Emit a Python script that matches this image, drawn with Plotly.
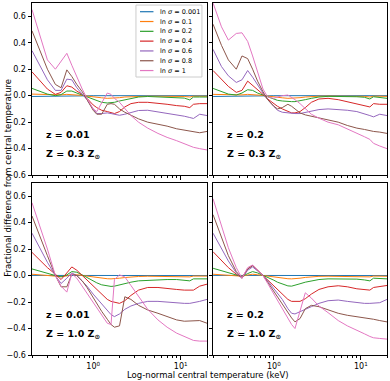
import plotly.graph_objects as go

temps = [0.2, 0.25, 0.3, 0.37, 0.43, 0.5, 0.57, 0.65, 0.75, 0.85, 1.0, 1.1, 1.25, 1.45, 1.6,
         1.75, 2.0, 2.3, 2.7, 3.3, 4.2, 5.5, 7, 9, 11, 12.7, 14, 16.5, 20]
sigmas = ["0.001", "0.1", "0.2", "0.4", "0.6", "0.8", "1"]
colors = ["#1f77b4", "#ff7f0e", "#2ca02c", "#d62728", "#9467bd", "#8c564b", "#e377c2"]

# z = 0.01, Z = 0.3 Zsun  (one row per ln sigma)
z001_Z03 = [
    [-0.006, -0.006, -0.005, -0.005, -0.005, -0.004, -0.004, -0.003, -0.002, -0.001, 0, 0, 0, 0, 0,
     0, 0, 0, 0, 0, 0, 0, 0, 0, 0, -0.002, 0, 0, 0],
    [0.012, 0.01, 0.007, 0.005, 0.006, 0.01, 0.009, 0.006, 0.002, -0.003, -0.01, -0.013, -0.016, -0.02, -0.02,
     -0.018, -0.015, -0.01, -0.007, -0.005, -0.004, -0.004, -0.004, -0.005, -0.006, -0.01, -0.004, -0.004, -0.004],
    [0.055, 0.03, 0.012, 0.0, 0.008, 0.035, 0.035, 0.02, 0.005, -0.01, -0.03, -0.04, -0.05, -0.055, -0.055,
     -0.05, -0.04, -0.03, -0.02, -0.01, -0.006, -0.008, -0.01, -0.012, -0.018, -0.032, -0.01, -0.01, -0.01],
    [0.18, 0.11, 0.05, 0.01, 0.025, 0.075, 0.065, 0.035, 0.01, -0.02, -0.07, -0.09, -0.11, -0.12, -0.125,
     -0.135, -0.12, -0.085, -0.06, -0.05, -0.05, -0.055, -0.065, -0.075, -0.08, -0.09, -0.065, -0.06, -0.06],
    [0.34, 0.22, 0.12, 0.04, 0.04, 0.125, 0.12, 0.06, 0.015, -0.03, -0.1, -0.135, -0.135, -0.13, -0.135,
     -0.14, -0.148, -0.14, -0.125, -0.112, -0.11, -0.122, -0.132, -0.142, -0.155, -0.165, -0.172, -0.14, -0.15],
    [0.49, 0.33, 0.2, 0.085, 0.06, 0.195, 0.145, 0.085, 0.03, -0.03, -0.11, -0.14, -0.14, -0.065, -0.06,
     -0.065, -0.1, -0.125, -0.15, -0.175, -0.2, -0.215, -0.23, -0.25, -0.26, -0.27, -0.275, -0.28, -0.27],
    [0.65, 0.44, 0.27, 0.2, 0.26, 0.32, 0.23, 0.14, 0.05, -0.02, -0.1, -0.12, -0.05, 0.02, 0.01,
     -0.02, -0.05, -0.1, -0.15, -0.2, -0.245, -0.285, -0.315, -0.34, -0.36, -0.38, -0.39, -0.4, -0.41],
]

# z = 0.2, Z = 0.3 Zsun
z02_Z03 = [
    [-0.006, -0.006, -0.005, -0.005, -0.005, -0.004, -0.004, -0.003, -0.002, -0.001, 0, 0, 0, 0, 0,
     0, 0, 0, 0, 0, 0, 0, 0, 0, 0, -0.002, 0, 0, 0],
    [0.01, 0.008, 0.006, 0.005, 0.006, 0.01, 0.009, 0.006, 0.002, -0.003, -0.01, -0.013, -0.016, -0.02, -0.02,
     -0.018, -0.015, -0.01, -0.006, -0.004, -0.003, -0.003, -0.003, -0.004, -0.005, -0.01, -0.004, -0.004, -0.005],
    [0.055, 0.03, 0.012, 0.005, 0.02, 0.045, 0.04, 0.02, 0.005, -0.01, -0.025, -0.035, -0.04, -0.045, -0.045,
     -0.045, -0.04, -0.03, -0.02, -0.01, -0.005, -0.005, -0.006, -0.008, -0.012, -0.025, -0.008, -0.015, -0.02],
    [0.19, 0.12, 0.07, 0.025, 0.04, 0.11, 0.08, 0.045, 0.01, -0.025, -0.06, -0.08, -0.1, -0.12, -0.13,
     -0.13, -0.12, -0.09, -0.05, -0.025, -0.02, -0.03, -0.045, -0.06, -0.075, -0.085, -0.06, -0.065, -0.065],
    [0.35, 0.22, 0.15, 0.1, 0.12, 0.19, 0.14, 0.08, 0.02, -0.03, -0.08, -0.11, -0.125, -0.13, -0.135,
     -0.135, -0.135, -0.125, -0.115, -0.105, -0.1, -0.103, -0.11, -0.12, -0.135, -0.15, -0.16, -0.14, -0.15],
    [0.54, 0.38, 0.27, 0.2, 0.3, 0.28, 0.2, 0.11, 0.03, -0.03, -0.08, -0.1, -0.09, -0.065, -0.08,
     -0.1, -0.13, -0.145, -0.155, -0.165, -0.18, -0.2, -0.225, -0.245, -0.255, -0.265, -0.27, -0.275, -0.285],
    [0.7, 0.52, 0.42, 0.47, 0.475, 0.41, 0.3, 0.18, 0.05, -0.01, -0.02, -0.01, 0.0, 0.005, -0.01,
     -0.03, -0.06, -0.1, -0.14, -0.17, -0.2, -0.22, -0.25, -0.28, -0.31, -0.33, -0.36, -0.38, -0.4],
]

# z = 0.01, Z = 1.0 Zsun
z001_Z10 = [
    [0.001, 0.001, 0.001, 0.0, 0.0, 0.0, 0.0, 0.0, 0.0, 0.0, 0, 0, 0, 0, 0,
     0, 0, 0, 0, 0, 0, 0, 0, 0, 0, 0, 0, 0, 0],
    [0.01, 0.006, 0.003, 0.0, -0.008, -0.003, 0.008, 0.006, 0.0, -0.006, -0.012, -0.016, -0.02, -0.024, -0.025,
     -0.024, -0.02, -0.015, -0.01, -0.007, -0.005, -0.005, -0.005, -0.005, -0.006, -0.01, -0.004, -0.004, -0.004],
    [0.05, 0.03, 0.015, 0.0, -0.01, 0.005, 0.03, 0.025, 0.005, -0.015, -0.04, -0.055, -0.07, -0.08, -0.082,
     -0.08, -0.07, -0.06, -0.05, -0.04, -0.035, -0.03, -0.03, -0.03, -0.033, -0.04, -0.025, -0.025, -0.025],
    [0.175, 0.11, 0.06, 0.01, -0.03, 0.02, 0.065, 0.04, 0.0, -0.03, -0.08, -0.11, -0.14, -0.18, -0.195,
     -0.2, -0.21, -0.19, -0.15, -0.11, -0.09, -0.09, -0.095, -0.105, -0.11, -0.11, -0.11, -0.08, -0.065],
    [0.32, 0.2, 0.1, 0.0, -0.06, -0.02, 0.02, 0.0, -0.04, -0.08, -0.14, -0.17, -0.21, -0.26, -0.295,
     -0.31, -0.29, -0.255, -0.23, -0.21, -0.195, -0.195, -0.2, -0.21, -0.21, -0.21, -0.205, -0.195, -0.18],
    [0.45, 0.28, 0.15, 0.0, -0.085, -0.085, 0.01, 0.0, -0.04, -0.09, -0.17, -0.21, -0.27, -0.33, -0.37,
     -0.39, -0.38, -0.16, -0.18, -0.225, -0.26, -0.285, -0.31, -0.335, -0.345, -0.345, -0.345, -0.34, -0.36],
    [0.55, 0.36, 0.2, 0.0, -0.08, -0.125, 0.015, -0.02, -0.08, -0.14, -0.21, -0.25, -0.3, -0.36, -0.37,
     -0.03, 0.005, -0.01, -0.075, -0.16, -0.255, -0.335, -0.39, -0.435, -0.46, -0.475, -0.49, -0.495, -0.495],
]

# z = 0.2, Z = 1.0 Zsun
z02_Z10 = [
    [0.001, 0.001, 0.001, 0.0, 0.0, 0.0, 0.0, 0.0, 0.0, 0.0, 0, 0, 0, 0, 0,
     0, 0, 0, 0, 0, 0, 0, 0, 0, 0, 0, 0, 0, 0],
    [0.01, 0.007, 0.004, 0.001, -0.005, 0.004, 0.01, 0.006, 0.0, -0.006, -0.012, -0.016, -0.02, -0.024, -0.025,
     -0.024, -0.02, -0.014, -0.01, -0.006, -0.005, -0.005, -0.005, -0.005, -0.006, -0.01, -0.004, -0.004, -0.005],
    [0.055, 0.035, 0.02, 0.005, -0.008, 0.015, 0.03, 0.02, 0.003, -0.012, -0.035, -0.05, -0.065, -0.078, -0.08,
     -0.075, -0.062, -0.05, -0.04, -0.03, -0.025, -0.025, -0.025, -0.027, -0.033, -0.04, -0.02, -0.022, -0.025],
    [0.18, 0.11, 0.06, 0.01, -0.015, 0.05, 0.075, 0.04, 0.0, -0.03, -0.08, -0.105, -0.14, -0.18, -0.195,
     -0.195, -0.195, -0.175, -0.14, -0.105, -0.085, -0.077, -0.085, -0.1, -0.108, -0.11, -0.09, -0.085, -0.075],
    [0.32, 0.2, 0.11, 0.02, -0.02, 0.04, 0.065, 0.035, 0.0, -0.04, -0.1, -0.14, -0.18, -0.25, -0.285,
     -0.29, -0.275, -0.255, -0.235, -0.21, -0.19, -0.185, -0.195, -0.205, -0.21, -0.21, -0.21, -0.205, -0.18],
    [0.46, 0.29, 0.15, 0.03, -0.02, 0.05, 0.075, 0.04, 0.0, -0.05, -0.12, -0.16, -0.21, -0.28, -0.32,
     -0.35, -0.325, -0.25, -0.225, -0.235, -0.26, -0.285, -0.3, -0.31, -0.32, -0.325, -0.33, -0.34, -0.35],
    [0.58, 0.38, 0.21, 0.06, -0.02, 0.06, 0.08, 0.04, 0.0, -0.06, -0.14, -0.19, -0.25, -0.32, -0.37,
     -0.4, -0.26, -0.13, -0.17, -0.23, -0.28, -0.34, -0.38, -0.41, -0.44, -0.46, -0.47, -0.475, -0.48],
]

panels = [
    ("", z001_Z03, "0.01", "0.3"),
    ("2", z02_Z03, "0.2", "0.3"),
    ("3", z001_Z10, "0.01", "1.0"),
    ("4", z02_Z10, "0.2", "1.0"),
]

FONT = "DejaVu Sans"
fig = go.Figure()

for n, rows, zval, metal in panels:
    for vals, c in zip(rows, colors):
        fig.add_trace(go.Scatter(x=temps, y=vals, mode="lines", line=dict(color=c, width=1),
                                 xaxis="x" + n, yaxis="y" + n, showlegend=False))
    fig.add_annotation(x=0.069, y=0.238, xref=f"x{n} domain", yref=f"y{n} domain",
                       text=f"<b>z = {zval}</b>", showarrow=False, xanchor="left", yanchor="middle",
                       font=dict(family=FONT, size=9.5, color="black"))
    fig.add_annotation(x=0.069, y=0.12, xref=f"x{n} domain", yref=f"y{n} domain",
                       text=f"<b>Z = {metal} Z<sub>⊙</sub></b>", showarrow=False, xanchor="left",
                       yanchor="middle", font=dict(family=FONT, size=9.5, color="black"))

minor_vals = [0.2, 0.3, 0.4, 0.5, 0.6, 0.7, 0.8, 0.9, 2, 3, 4, 5, 6, 7, 8, 9, 20]
yticks = [-0.6, -0.4, -0.2, 0.0, 0.2, 0.4, 0.6]
ytext = ["−0.6", "−0.4", "−0.2", "0.0", "0.2", "0.4", "0.6"]

def xaxis(domain, labels):
    return dict(domain=domain, type="log", range=[-0.699, 1.301], showline=True, linecolor="black",
                linewidth=1, mirror=True, ticks="outside", ticklen=3.5, tickcolor="black",
                tickvals=[1, 10], ticktext=["10<sup>0</sup>", "10<sup>1</sup>"], showticklabels=labels,
                showgrid=False, zeroline=False, tickfont=dict(family=FONT, size=8, color="black"),
                minor=dict(tickvals=minor_vals, ticks="outside", ticklen=2, tickcolor="black", showgrid=False))

def yaxis(domain, anchor, labels):
    return dict(domain=domain, anchor=anchor, range=[-0.6, 0.7], showline=True, linecolor="black",
                linewidth=1, mirror=True, ticks="outside", ticklen=3.5, tickcolor="black",
                tickvals=yticks, ticktext=ytext, showticklabels=labels, showgrid=False, zeroline=False,
                tickfont=dict(family=FONT, size=8, color="black"))

xl, xr = [0, 0.493], [0.510, 1.0]
yt, yb = [0.511, 1.0], [0, 0.489]

fig.update_layout(
    width=390, height=381, margin=dict(l=32, r=3, t=3, b=26),
    plot_bgcolor="white", paper_bgcolor="white", showlegend=False,
    xaxis=dict(xaxis(xl, False), anchor="y"),
    xaxis2=dict(xaxis(xr, False), anchor="y2"),
    xaxis3=dict(xaxis(xl, True), anchor="y3"),
    xaxis4=dict(xaxis(xr, True), anchor="y4"),
    yaxis=yaxis(yt, "x", True),
    yaxis2=yaxis(yt, "x2", False),
    yaxis3=yaxis(yb, "x3", True),
    yaxis4=yaxis(yb, "x4", False),
)

# legend box drawn inside the top-left panel
fig.add_shape(type="rect", xref="x domain", yref="y domain", x0=0.594, x1=0.971, y0=0.57, y1=0.988,
              line=dict(color="#cccccc", width=1), fillcolor="rgba(255,255,255,0.8)", layer="above")
for i, (s, c) in enumerate(zip(sigmas, colors)):
    yy = (175 - (11.7 + 9.8 * i)) / 172
    fig.add_shape(type="line", xref="x domain", yref="y domain", x0=0.617, x1=0.694, y0=yy, y1=yy,
                  line=dict(color=c, width=1.2), layer="above")
    fig.add_annotation(x=0.72, y=yy, xref="x domain", yref="y domain", text=f"ln <i>σ</i> = {s}",
                       showarrow=False, xanchor="left", yanchor="middle",
                       font=dict(family=FONT, size=6.5, color="black"))

fig.add_annotation(x=0.497, y=-0.057, xref="paper", yref="paper", text="Log-normal central temperature (keV)",
                   showarrow=False, xanchor="center", yanchor="middle",
                   font=dict(family=FONT, size=8.5, color="black"))
fig.add_annotation(x=-0.068, y=0.503, xref="paper", yref="paper", textangle=-90,
                   text="Fractional difference from central temperature", showarrow=False,
                   xanchor="center", yanchor="middle", font=dict(family=FONT, size=8.5, color="black"))

fig.write_html("out.html", config={"displayModeBar": False},
               post_script="document.body.style.margin='0';document.body.style.overflow='hidden';")
